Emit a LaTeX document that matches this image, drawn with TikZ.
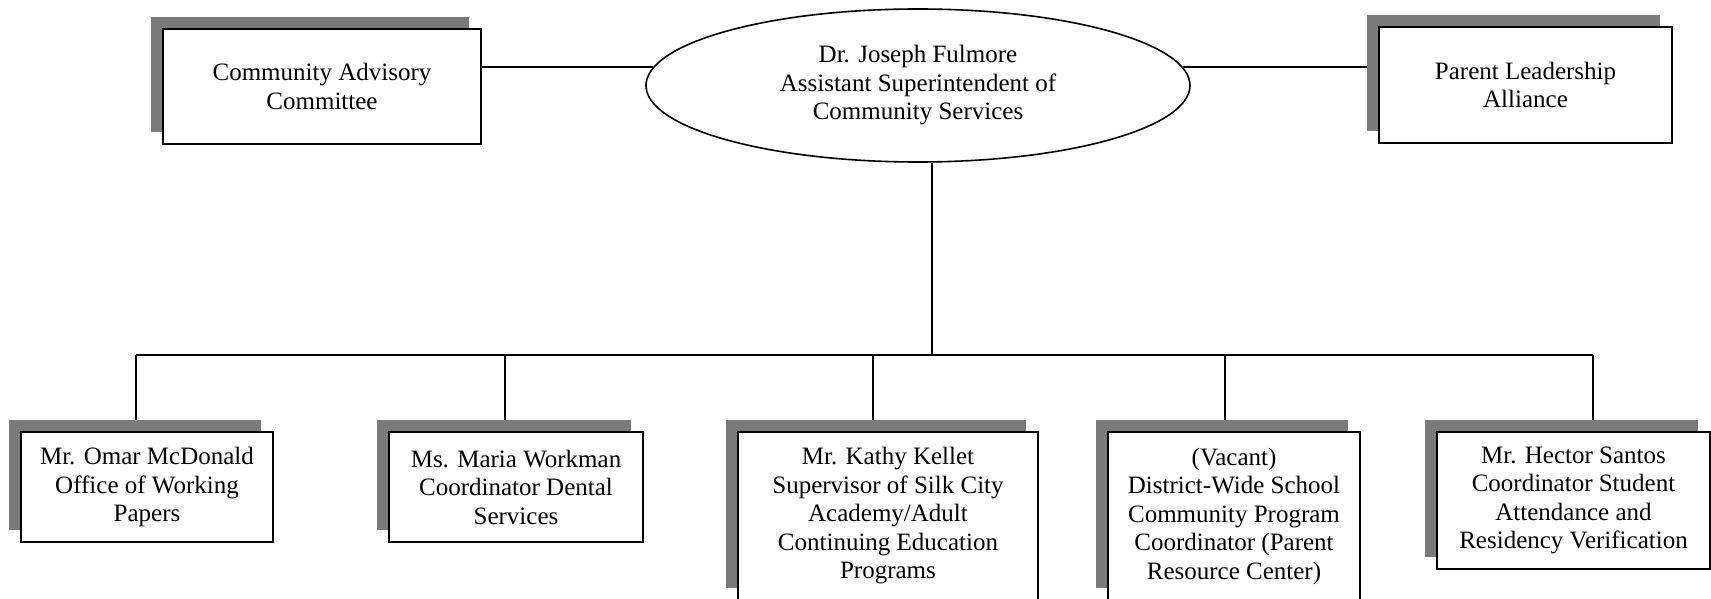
\documentclass[tikz,border=0pt]{standalone}
\usepackage{fontspec}
\setmainfont{Liberation Serif}
\usetikzlibrary{shapes.geometric,shadows,backgrounds}
\tikzset{
  conn/.style={line width=1.6pt, black},
  orgbox/.style={draw=black, line width=1.6pt, fill=white, rectangle, inner sep=0pt,
    align=center, font=\fontsize{25}{28.5}\selectfont,
    drop shadow={shadow xshift=-12.5pt, shadow yshift=12pt, fill=black!52, opacity=1}},
  headell/.style={draw=black, line width=1.6pt, fill=white, ellipse, inner sep=0pt,
    align=center, font=\fontsize{25}{28.5}\selectfont}
}
\begin{document}
\begin{tikzpicture}[x=1pt, y=-1pt]
\useasboundingbox (0,0) rectangle (1711,599);
\clip (0,0) rectangle (1711,599);

% top row
\node[orgbox, minimum width=318pt, minimum height=115pt] (cac) at (322,86.5)
  {Community Advisory\\Committee};
\node[headell, minimum width=544pt, minimum height=153pt] (ell) at (918,85.5)
  {Dr. Joseph Fulmore\\Assistant Superintendent of\\Community Services};
\node[orgbox, minimum width=293pt, minimum height=116pt] (pla) at (1525.5,85)
  {Parent Leadership\\Alliance};

% bottom row
\node[orgbox, minimum width=252pt, minimum height=110pt] (b1) at (147,487)
  {Mr. Omar McDonald\\Office of Working\\Papers};
\node[orgbox, minimum width=254pt, minimum height=110pt] (b2) at (516,487)
  {Ms. Maria Workman\\Coordinator Dental\\Services};
\node[orgbox, minimum width=300pt, minimum height=168pt] (b3) at (888,516)
  {Mr. Kathy Kellet\\Supervisor of Silk City\\Academy/Adult\\Continuing Education\\Programs};
\node[orgbox, minimum width=252pt, minimum height=168pt] (b4) at (1234,516)
  {(Vacant)\\District-Wide School\\Community Program\\Coordinator (Parent\\Resource Center)};
\node[orgbox, minimum width=273pt, minimum height=137pt] (b5) at (1573.5,500.5)
  {Mr. Hector Santos\\Coordinator Student\\Attendance and\\Residency Verification};

% bus coordinates
\coordinate (hub) at (932,355);
\coordinate (d1) at (136,355);
\coordinate (d2) at (505,355);
\coordinate (d3) at (873,355);
\coordinate (d4) at (1225,355);
\coordinate (d5) at (1593,355);

\begin{pgfonlayer}{background}
  \fill[white] (0,0) rectangle (1711,599);
  \draw[conn] (ell.176 -| cac.east) -- (ell.176);
  \draw[conn] (ell.4) -- (ell.4 -| pla.west);
  \draw[conn] (hub |- ell.south) -- (hub);
  \draw[conn] (d1) -- (d5);
  \draw[conn] (d1) -- (d1 |- b1.north);
  \draw[conn] (d2) -- (d2 |- b2.north);
  \draw[conn] (d3) -- (d3 |- b3.north);
  \draw[conn] (d4) -- (d4 |- b4.north);
  \draw[conn] (d5) -- (d5 |- b5.north);
\end{pgfonlayer}
\end{tikzpicture}
\end{document}
